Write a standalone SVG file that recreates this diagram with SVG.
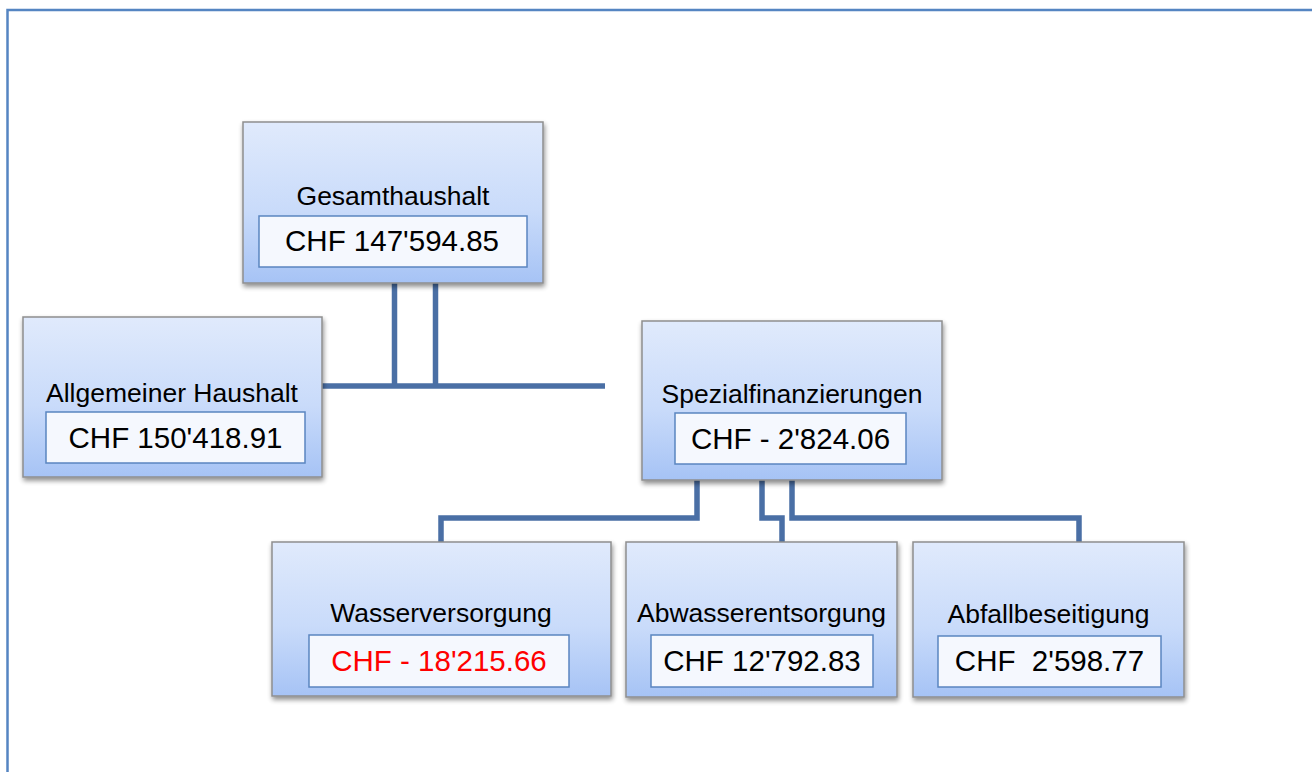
<svg xmlns="http://www.w3.org/2000/svg" width="1312" height="772" viewBox="0 0 1312 772">
<style>
.box{fill:url(#g);stroke:#8e8e8e;stroke-width:1.5}
.inner{fill:#f5f8fe;stroke:#5a85c0;stroke-width:1.5}
.lbl{font-family:"Liberation Sans",Arial,sans-serif;font-size:26.5px;fill:#000;text-anchor:middle}
.val{font-family:"Liberation Sans",Arial,sans-serif;font-size:29.5px;fill:#000;text-anchor:middle}
.red{fill:#ff0000}
.con{fill:none;stroke:#4a6fa5;stroke-width:5.5;stroke-linejoin:miter}
</style>
<defs>
<linearGradient id="g" x1="0" y1="0" x2="0" y2="1">
<stop offset="0" stop-color="#e0eafc"/>
<stop offset="0.55" stop-color="#c9dbfa"/>
<stop offset="1" stop-color="#a6c3f5"/>
</linearGradient>
<filter id="sh" x="-10%" y="-10%" width="125%" height="130%">
<feGaussianBlur in="SourceAlpha" stdDeviation="2.5"/>
<feOffset dx="1" dy="3" result="b"/>
<feComponentTransfer><feFuncA type="linear" slope="0.45"/></feComponentTransfer>
<feMerge><feMergeNode/><feMergeNode in="SourceGraphic"/></feMerge>
</filter>
</defs>
<rect width="1312" height="772" fill="#ffffff"/>
<g id="frame" fill="none" stroke="#5585c2" stroke-width="2.5">
<path d="M7.5 772 V10 H1312"/>
</g>
<g id="connectors" class="con">
<path class="con" d="M394.5 283 V386"/>
<path class="con" d="M435.5 283 V386"/>
<path class="con" d="M322 386 H605"/>
<path class="con" d="M697 480 V518 H441 V542"/>
<path class="con" d="M762 480 V518 H782 V542"/>
<path class="con" d="M792 480 V518 H1079 V542"/>
</g>
<g id="gesamthaushalt">
<rect class="box" x="243" y="122" width="300" height="161" filter="url(#sh)"/>
<text class="lbl" x="393" y="205">Gesamthaushalt</text>
<rect class="inner" x="259" y="216" width="268" height="51"/>
<text class="val" x="392" y="251">CHF 147'594.85</text>
</g>
<g id="allgemeiner">
<rect class="box" x="23" y="317" width="299" height="160" filter="url(#sh)"/>
<text class="lbl" x="172" y="402">Allgemeiner Haushalt</text>
<rect class="inner" x="46" y="412" width="259" height="51"/>
<text class="val" x="175.5" y="448">CHF 150'418.91</text>
</g>
<g id="spezial">
<rect class="box" x="642" y="321" width="300" height="159" filter="url(#sh)"/>
<text class="lbl" x="792" y="403">Spezialfinanzierungen</text>
<rect class="inner" x="675" y="413" width="231" height="51"/>
<text class="val" x="790.5" y="449">CHF - 2'824.06</text>
</g>
<g id="wasser">
<rect class="box" x="272" y="542" width="339" height="154" filter="url(#sh)"/>
<text class="lbl" x="441" y="622">Wasserversorgung</text>
<rect class="inner" x="309" y="635" width="260" height="52"/>
<text class="val red" x="439" y="671">CHF - 18'215.66</text>
</g>
<g id="abwasser">
<rect class="box" x="626" y="542" width="271" height="155" filter="url(#sh)"/>
<text class="lbl" x="761.5" y="622">Abwasserentsorgung</text>
<rect class="inner" x="651" y="635" width="222" height="52"/>
<text class="val" x="762" y="671">CHF 12'792.83</text>
</g>
<g id="abfall">
<rect class="box" x="913" y="542" width="271" height="155" filter="url(#sh)"/>
<text class="lbl" x="1048.5" y="623">Abfallbeseitigung</text>
<rect class="inner" x="938" y="636" width="223" height="51"/>
<text class="val" x="1049.5" y="671" xml:space="preserve">CHF  2'598.77</text>
</g>
</svg>
